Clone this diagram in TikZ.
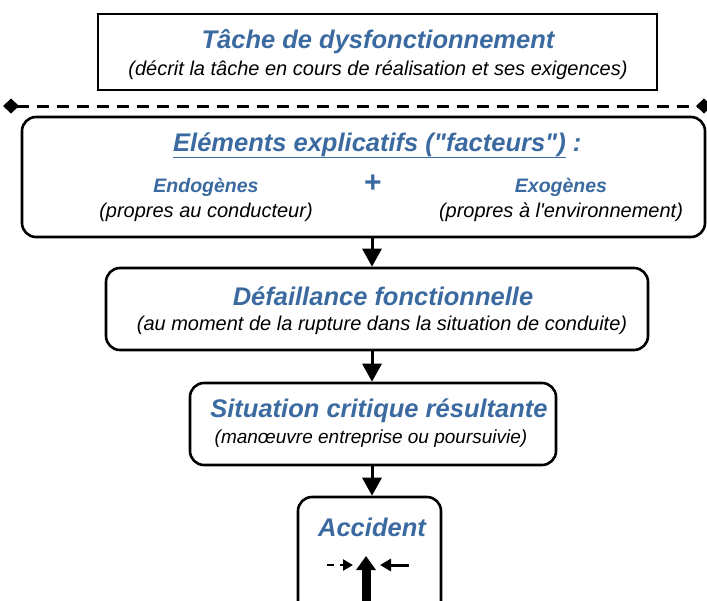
\documentclass[tikz,border=0pt]{standalone}
\usepackage{fontspec}
\setmainfont{Liberation Sans}[Ligatures=TeXOff]
\usetikzlibrary{arrows.meta}
\definecolor{tblue}{HTML}{3A6AA0}
\tikzset{
  box/.style={draw=black, line width=2.6pt, inner sep=0pt},
  rbox/.style={box, rounded corners=14pt},
  ttl/.style={font=\bfseries\itshape\fontsize{25.5}{28}\selectfont, text=tblue, inner sep=0pt},
  sub/.style={font=\itshape\fontsize{20}{23}\selectfont, text=black, inner sep=0pt},
  small/.style={font=\bfseries\itshape\fontsize{19.5}{22}\selectfont, text=tblue, inner sep=0pt},
  arr/.style={line width=3pt, -{Triangle[length=18pt,width=19pt]}},
}
\begin{document}
\begin{tikzpicture}[x=1pt,y=-1pt]
\useasboundingbox (0,0) rectangle (707,600);
\clip (0,0) rectangle (707,600);
% boxes
\node[box, minimum width=559pt, minimum height=76pt] (tache) at (377.5,52) {};
\node[rbox, minimum width=683pt, minimum height=120pt] (elem) at (363.5,177) {};
\node[rbox, minimum width=542pt, minimum height=82pt] (defa) at (377,309) {};
\node[rbox, minimum width=366pt, minimum height=82pt] (situ) at (373,424) {};
\node[rbox, minimum width=143pt, minimum height=140pt] (acc) at (369.5,567) {};
% texts
\node[ttl] (t1) at (378,42) {Tâche de dysfonctionnement};
\node[sub] (t2) at (378,70) {(décrit la tâche en cours de réalisation et ses exigences)};
\node[ttl, anchor=base west] (e1) at (173,151) {\underline{Eléments explicatifs ("facteurs")} :};
\node[small] (en) at (206,187) {Endogènes};
\node[sub] (enp) at (206,212) {(propres au conducteur)};
\node[font=\bfseries\fontsize{30}{30}\selectfont, text=tblue, inner sep=0pt] (plus) at (373,184) {+};
\node[small] (ex) at (561,187) {Exogènes};
\node[sub] (exp) at (561,212) {(propres à l'environnement)};
\node[ttl] (d1) at (383,296) {Défaillance fonctionnelle};
\node[sub] (d2) at (382,325) {(au moment de la rupture dans la situation de conduite)};
\node[ttl] (s1) at (379,411) {Situation critique résultante};
\node[sub, font=\itshape\fontsize{19}{22}\selectfont] (s2) at (371,439) {(manœuvre entreprise ou poursuivie)};
\node[ttl] (a1) at (372,527) {Accident};
% dashed separator
\coordinate (dl) at (3,106);
\coordinate (dr) at (712,106);
\draw[line width=3pt, dash pattern=on 12pt off 8pt, {Diamond[length=16pt,width=15pt]}-{Diamond[length=16pt,width=15pt]}] (dl) -- (dr);
% connectors
\coordinate (ax) at (372,0);
\draw[arr] (elem.south -| ax) -- (defa.north -| ax);
\draw[arr] (defa.south -| ax) -- (situ.north -| ax);
\draw[arr] (situ.south -| ax) -- (acc.north -| ax);
% arrows inside accident
\coordinate (l1) at (327,565);
\coordinate (l2) at (353,565);
\coordinate (r1) at (409,565);
\coordinate (r2) at (380,565);
\coordinate (u1) at (366,605);
\coordinate (u2) at (366,556);
\draw[line width=2.6pt, dash pattern=on 7pt off 6pt, -{Triangle[length=10pt,width=11pt]}] (l1) -- (l2);
\draw[line width=3pt, -{Triangle[length=11pt,width=12pt]}] (r1) -- (r2);
\draw[line width=9pt, -{Triangle[length=14pt,width=19pt]}] (u1) -- (u2);
\end{tikzpicture}
\end{document}
